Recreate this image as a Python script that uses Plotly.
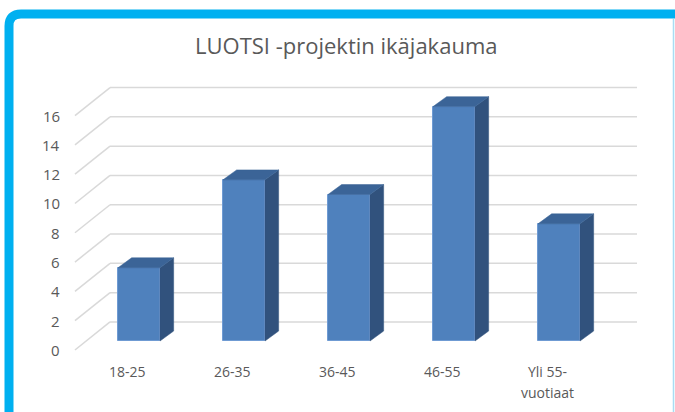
import plotly.graph_objects as go

# ---- data ----
categories = ["18-25", "26-35", "36-45", "46-55", "Yli 55-\nvuotiaat"]
values = [5, 11, 10, 16, 8]
y_ticks = [0, 2, 4, 6, 8, 10, 12, 14, 16]
title_text = "LUOTSI -projektin ikäjakauma"

# ---- geometry (pixels -> data) ----
W, H = 675, 412
X0_PX, X_UNIT = 139, 105.0
Y0_PX, Y_UNIT = 341, 14.65

LBL_DX, LBL_DY = -0.107, -0.612   # front (label) plane relative to bar front plane
BACK_DX, BACK_DY = 0.227, 1.30    # back wall relative to bar front plane
BAR_DX, BAR_DY = 0.13, 0.68       # bar depth
BAR_W = 0.4
WALL_LEFT = -0.61                 # left end of floor/wall diagonals (label plane)
WALL_RIGHT = 4.743                # right end of back wall gridlines

FRONT = "#4f81bd"
SIDE = "#31527d"
TOP = "#3b6497"
GRID = "#d9d9d9"
TXT = "#595959"
FONT = "Open Sans"

def px_x(p):
    return p / W

def px_y(p):
    return 1 - p / H

fig = go.Figure()

# front faces
xs = list(range(len(categories)))
fig.add_trace(go.Bar(
    x=xs, y=values, width=BAR_W, base=0,
    marker=dict(color=FRONT, line=dict(color="#6f9bd3", width=1)),
    hoverinfo="skip", showlegend=False,
))

# side & top faces
for i, v in zip(xs, values):
    r = i + BAR_W / 2
    l = i - BAR_W / 2
    fig.add_trace(go.Scatter(
        x=[r, r + BAR_DX, r + BAR_DX, r, r],
        y=[0, BAR_DY, v + BAR_DY, v, 0],
        fill="toself", fillcolor=SIDE, mode="lines",
        line=dict(color=SIDE, width=0.5), hoverinfo="skip", showlegend=False,
    ))
    fig.add_trace(go.Scatter(
        x=[l, l + BAR_DX, r + BAR_DX, r, l],
        y=[v, v + BAR_DY, v + BAR_DY, v, v],
        fill="toself", fillcolor=TOP, mode="lines",
        line=dict(color=TOP, width=0.5), hoverinfo="skip", showlegend=False,
    ))

shapes = []
# gridlines (diagonal on the side wall + horizontal on the back wall)
for t in y_ticks:
    xa, ya = WALL_LEFT, t + LBL_DY
    xb, yb = WALL_LEFT + (BACK_DX - LBL_DX), t + BACK_DY
    shapes.append(dict(type="line", xref="x", yref="y", x0=xa, y0=ya, x1=xb, y1=yb,
                       line=dict(color=GRID, width=1.5), layer="below"))
    shapes.append(dict(type="line", xref="x", yref="y", x0=xb, y0=yb, x1=WALL_RIGHT, y1=yb,
                       line=dict(color=GRID, width=1.5), layer="below"))

# cyan frame
x_l = px_x(9)
y_t = px_y(14)
r = 12
path = (f"M {x_l},{px_y(430)} L {x_l},{px_y(14 + r)} "
        f"Q {x_l},{y_t} {px_x(9 + r)},{y_t} L {px_x(720)},{y_t}")
shapes.append(dict(type="path", xref="paper", yref="paper", path=path,
                   line=dict(color="#00b0f0", width=9), layer="above"))
shapes.append(dict(type="line", xref="paper", yref="paper",
                   x0=px_x(673.5), x1=px_x(673.5), y0=px_y(19), y1=px_y(412),
                   line=dict(color="#a8dcf2", width=1.5), layer="above"))

annotations = []
# y tick labels
for t in y_ticks:
    annotations.append(dict(x=-0.733, y=t + LBL_DY, xref="x", yref="y", text=str(t),
                            showarrow=False, xanchor="right", yanchor="middle",
                            font=dict(family=FONT, size=15, color=TXT)))
# x labels
for i, c in zip(xs, categories):
    for k, line in enumerate(c.split("\n")):
        annotations.append(dict(x=i + LBL_DX, y=LBL_DY - 1.5 - k * 1.43, xref="x", yref="y",
                                text=line, showarrow=False, xanchor="center", yanchor="middle",
                                font=dict(family=FONT, size=14, color=TXT)))
# title
annotations.append(dict(x=px_x(346), y=px_y(45), xref="paper", yref="paper",
                        text=title_text, showarrow=False, xanchor="center", yanchor="middle",
                        font=dict(family=FONT, size=22, color=TXT)))

fig.update_layout(
    width=W, height=H,
    margin=dict(l=0, r=0, t=0, b=0),
    paper_bgcolor="white", plot_bgcolor="white",
    xaxis=dict(range=[-X0_PX / X_UNIT, (W - X0_PX) / X_UNIT], visible=False, fixedrange=True),
    yaxis=dict(range=[-(H - Y0_PX) / Y_UNIT, Y0_PX / Y_UNIT], visible=False, fixedrange=True),
    shapes=shapes, annotations=annotations,
    showlegend=False, bargap=0,
)

fig.write_html(
    "out.html",
    config={"displayModeBar": False},
    post_script="document.body.style.margin='0';document.body.style.overflow='hidden';",
)
